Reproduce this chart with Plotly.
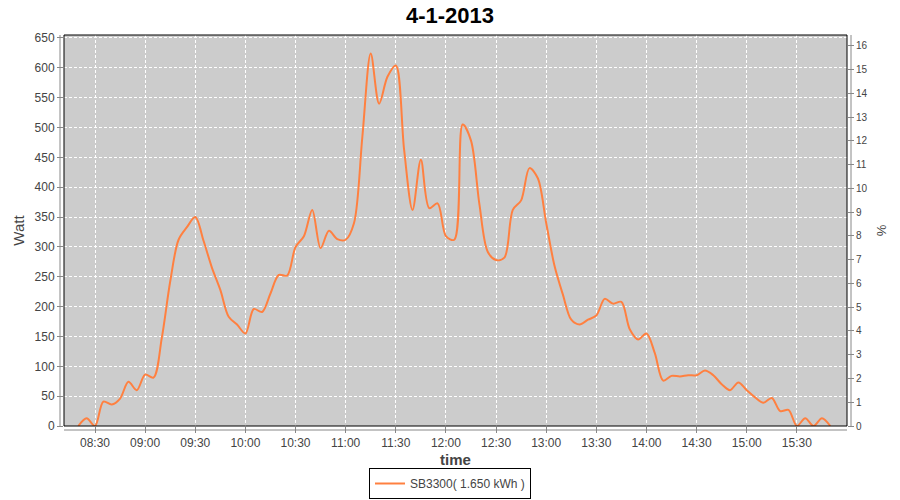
import plotly.graph_objects as go

day = "2013-01-04"
times = ["08:20","08:25","08:30","08:35","08:40","08:45","08:50","08:55","09:00","09:05",
         "09:10","09:15","09:20","09:25","09:30","09:35","09:40","09:45","09:50","09:55",
         "10:00","10:05","10:10","10:15","10:20","10:25","10:30","10:35","10:40","10:45",
         "10:50","10:55","11:00","11:05","11:10","11:15","11:20","11:25","11:30","11:35",
         "11:40","11:45","11:50","11:55","12:00","12:05","12:10","12:15","12:20","12:25",
         "12:30","12:35","12:40","12:45","12:50","12:55","13:00","13:05","13:10","13:15",
         "13:20","13:25","13:30","13:35","13:40","13:45","13:50","13:55","14:00","14:05",
         "14:10","14:15","14:20","14:25","14:30","14:35","14:40","14:45","14:50","14:55",
         "15:00","15:05","15:10","15:15","15:20","15:25","15:30","15:35","15:40","15:45","15:50"]
watt = [0, 13, 0, 41, 36, 46, 74, 60, 86, 81,
        148, 242, 312, 333, 350, 310, 265, 228, 183, 170,
        155, 196, 191, 222, 253, 252, 300, 318, 362, 298,
        327, 313, 312, 340, 485, 624, 540, 585, 604, 462,
        362, 446, 365, 373, 318, 312, 505, 478, 372, 292,
        278, 282, 362, 378, 432, 415, 340, 268, 220, 178,
        170, 178, 185, 213, 205, 208, 162, 145, 155, 122,
        76, 84, 83, 85, 85, 93, 85, 70, 60, 73,
        60, 48, 39, 47, 25, 27, 0, 13, 0, 13, 0]

x_ticks = ["08:30","09:00","09:30","10:00","10:30","11:00","11:30","12:00","12:30",
           "13:00","13:30","14:00","14:30","15:00","15:30"]
y_ticks = [0, 50, 100, 150, 200, 250, 300, 350, 400, 450, 500, 550, 600, 650]
y2_ticks = list(range(0, 17))

series_name = "SB3300( 1.650 kWh )"
title = "4-1-2013"

xs = [f"{day} {t}" for t in times]
line_color = "#ff8040"
tick_color = "#444444"
axis_color = "#888888"
grid_dash = "3px,2px"

fig = go.Figure()
fig.add_trace(go.Scatter(
    x=xs, y=watt, mode="lines", name=series_name,
    line=dict(color=line_color, width=2, shape="spline", smoothing=0.9),
    yaxis="y"))
fig.add_trace(go.Scatter(
    x=xs, y=[None] * len(xs), mode="lines", showlegend=False,
    hoverinfo="skip", yaxis="y2"))

fig.update_layout(
    width=900, height=500,
    margin=dict(l=64, r=53, t=35, b=74, autoexpand=False),
    paper_bgcolor="white", plot_bgcolor="#cccccc",
    title=dict(text=f"<b>{title}</b>", x=0.5, xanchor="center", y=0.97, yanchor="middle",
               font=dict(family="Liberation Sans, Arial, sans-serif", size=22, color="black")),
    font=dict(family="Liberation Sans, Arial, sans-serif", size=12, color=tick_color),
    xaxis=dict(
        type="date", automargin=False,
        range=[f"{day} 08:11:27", f"{day} 16:00"],
        tickvals=[f"{day} {t}" for t in x_ticks], ticktext=x_ticks,
        showgrid=True, gridcolor="white", griddash=grid_dash, gridwidth=1,
        ticks="outside", ticklen=6, tickcolor=axis_color,
        showline=False, zeroline=False,
        title=dict(text="<b>time</b>", font=dict(size=15, color=tick_color), standoff=8),
        tickfont=dict(size=12, color=tick_color),
    ),
    yaxis=dict(
        range=[0, 655], tickvals=y_ticks, automargin=False,
        showgrid=True, gridcolor="white", griddash=grid_dash, gridwidth=1,
        ticks="outside", ticklen=6, tickcolor=axis_color,
        showline=False, zeroline=False,
        title=dict(text="Watt", font=dict(size=15, color=tick_color), standoff=6),
        tickfont=dict(size=12, color=tick_color),
    ),
    yaxis2=dict(
        range=[0, 16.46], tickvals=y2_ticks, overlaying="y", side="right", automargin=False,
        showgrid=False, zeroline=False, showline=False,
        ticks="outside", ticklen=6, tickcolor=axis_color,
        title=dict(text="%", font=dict(size=13, color=tick_color), standoff=10),
        tickfont=dict(size=10, color=tick_color),
    ),
    legend=dict(
        orientation="h", x=0.5, xanchor="center", xref="container",
        y=0.002, yanchor="bottom", yref="container",
        bordercolor="black", borderwidth=1, bgcolor="white",
        font=dict(size=12, color=tick_color), itemwidth=30,
    ),
    showlegend=True,
)

# plot border
fig.add_shape(type="rect", xref="paper", yref="paper", x0=0, y0=0, x1=1, y1=1,
              line=dict(color="black", width=1), fillcolor="rgba(0,0,0,0)", layer="above")
# offset axis lines (JFreeChart style)
dx = 4 / 783
dy = 4 / 391
fig.add_shape(type="line", xref="paper", yref="paper", x0=-dx, x1=-dx, y0=0, y1=1,
              line=dict(color=axis_color, width=1))
fig.add_shape(type="line", xref="paper", yref="paper", x0=1 + dx, x1=1 + dx, y0=0, y1=1,
              line=dict(color=axis_color, width=1))
fig.add_shape(type="line", xref="paper", yref="paper", x0=0, x1=1, y0=-dy, y1=-dy,
              line=dict(color=axis_color, width=1))

fig.write_html("out.html", config={"displayModeBar": False},
               post_script="document.body.style.margin='0';document.body.style.padding='0';")
